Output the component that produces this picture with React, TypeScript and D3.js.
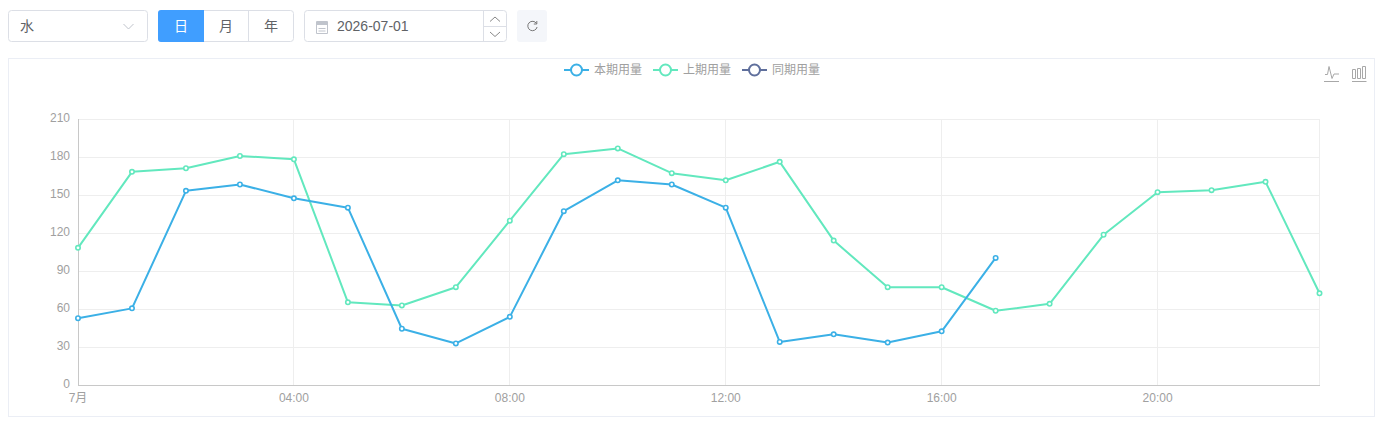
import React, { useEffect, useRef } from "react";
import * as d3 from "d3";

const hours = d3.range(0, 24);
const currentValues = [52.7, 60.5, 153.3, 158.3, 147.4, 140, 44.4, 32.8, 53.8, 137.2, 161.6, 158.3, 140, 34, 40, 33.5, 42.4, 100.3];
const previousValues = [108.3, 168.3, 171.1, 180.8, 178.2, 65.3, 62.8, 77.2, 129.7, 182.2, 186.8, 167.2, 161.6, 176.2, 114, 77.2, 77.2, 58.6, 64.1, 118.6, 152.2, 153.8, 160.4, 72.4];
const yTicks = [0, 30, 60, 90, 120, 150, 180, 210];
const xTickHours = [0, 4, 8, 12, 16, 20];
const xTickLabels = ["7月", "04:00", "08:00", "12:00", "16:00", "20:00"];
const legendNames = ["本期用量", "上期用量", "同期用量"];
const legendColors = ["#3BB0E6", "#62E8BE", "#5F6F9C"];
const resourceLabel = "水";
const periodLabels = ["日", "月", "年"];
const dateLabel = "2026-07-01";

const FONT = '"Microsoft YaHei", "Liberation Sans", Arial, "Noto Sans CJK SC", sans-serif';
const BORDER = "#DCDFE6";

export default function App() {
  const ref = useRef<SVGSVGElement>(null);
  useEffect(() => {
    const svg = d3.select(ref.current!);
    svg.selectAll("*").remove();
    const x = d3.scaleLinear().domain([0, 23]).range([78, 1319.5]);
    const y = d3.scaleLinear().domain([0, 210]).range([385, 119]);

    // toolbar
    const box = (bx: number, by: number, w: number, h: number, fill = "#fff", stroke = BORDER, r = 3) =>
      svg.append("rect").attr("x", bx + 0.5).attr("y", by + 0.5).attr("width", w - 1).attr("height", h - 1)
        .attr("rx", r).attr("fill", fill).attr("stroke", stroke);
    const label = (t: string, tx: number, ty: number, size: number, fill: string, anchor = "middle") =>
      svg.append("text").attr("x", tx).attr("y", ty).attr("font-size", size).attr("fill", fill)
        .attr("text-anchor", anchor).attr("font-family", FONT).text(t);
    const path = (d: string, stroke: string, w = 1) =>
      svg.append("path").attr("d", d).attr("fill", "none").attr("stroke", stroke).attr("stroke-width", w);

    box(8, 10, 140, 32);
    label(resourceLabel, 20, 31, 14, "#606266", "start");
    path("M123.5 24l5 5 5-5", "#C0C4CC");

    box(158, 10, 136, 32);
    svg.append("path").attr("d", "M161 10h43v32h-43a3 3 0 0 1-3-3v-26a3 3 0 0 1 3-3z").attr("fill", "#409EFF");
    path("M248.5 10v32", BORDER);
    label(periodLabels[0], 181, 31, 14, "#fff");
    label(periodLabels[1], 226, 31, 14, "#606266");
    label(periodLabels[2], 271, 31, 14, "#606266");

    box(304, 10, 203, 32);
    path("M483.5 10v32M483.5 26.500h23", BORDER);
    path("M316.500 21.500h11v12h-11z", "#C0C4CC");
    svg.append("rect").attr("x", 316).attr("y", 22).attr("width", 12).attr("height", 3).attr("fill", "#C0C4CC");
    path("M318.500 28.500h7M318.500 31h7", "#C0C4CC");
    label(dateLabel, 337, 31, 14, "#606266", "start");
    path("M490 21.500l5-4.500 5 4.500", "#888888");
    path("M490 32l5 4.500 5-4.500", "#888888");

    svg.append("rect").attr("x", 517).attr("y", 10).attr("width", 30).attr("height", 32).attr("rx", 3).attr("fill", "#F4F6FA");
    path("M536.500 23.500a4.700 4.700 0 1 0 .6 3.500M536.800 21v3h-3", "#777777");

    // card
    box(8, 58, 1367, 359, "#fff", "#EBEEF5", 0);

    // grid
    yTicks.slice(1).forEach((t) =>
      path(`M78 ${Math.round(y(t)) + 0.5}H1320`, "#EEEEEE"));
    [...xTickHours.slice(1), 23].forEach((h) =>
      path(`M${Math.floor(x(h)) + 0.5} 119V385`, "#EEEEEE"));
    path("M78.500 119V385", "#C8C8C8");
    path("M78 385.500H1320", "#C8C8C8");

    yTicks.forEach((t) => label(String(t), 70, y(t) + 3, 12, "#A0A0A0", "end"));
    xTickHours.forEach((h, i) => label(xTickLabels[i], x(h), 401.5, 12, "#A0A0A0"));

    // series
    const line = d3.line<number>().x((_, i) => x(hours[i])).y((v) => y(v));
    [currentValues, previousValues].slice().reverse().forEach((vals) => {
      const color = vals === currentValues ? legendColors[0] : legendColors[1];
      path(line(vals)!, color, 2).attr("stroke-linejoin", "bevel");
      svg.append("g").selectAll("circle").data(vals).join("circle")
        .attr("cx", (_, i) => x(hours[i])).attr("cy", (v) => y(v)).attr("r", 2.2)
        .attr("fill", "#fff").attr("stroke", color).attr("stroke-width", 1.6);
    });

    // legend
    const legendX = [564, 653, 742];
    legendNames.forEach((n, i) => {
      const lx = legendX[i];
      path(`M${lx} 70H${lx + 25}`, legendColors[i], 2);
      svg.append("circle").attr("cx", lx + 12.500).attr("cy", 70).attr("r", 5.500)
        .attr("fill", "#fff").attr("stroke", legendColors[i]).attr("stroke-width", 2);
      label(n, lx + 30, 74, 12, "#A0A0A0", "start");
    });

    // toolbox icons
    path("M1325 74.500h2.500l1.500-8 3 12 2-4.500h5", "#A8A8A8");
    path("M1324 81.500h15", "#A8A8A8");
    path("M1352.500 69.500h3v9h-3zM1357.500 68.500h3v10h-3zM1362.500 66.500h3v12h-3z", "#A8A8A8");
    path("M1352 81.500h14.500", "#A8A8A8");
  }, []);
  return (
    <svg ref={ref} width={1385} height={426} style={{ position: "absolute", left: 0, top: 0, display: "block" }} />
  );
}
